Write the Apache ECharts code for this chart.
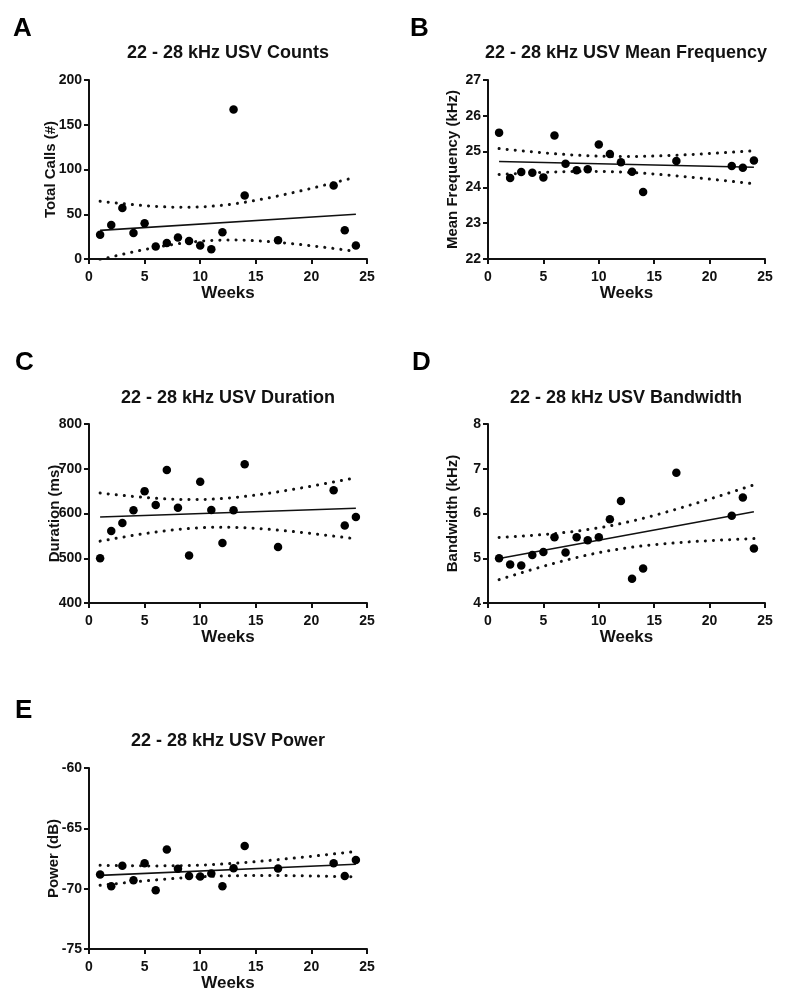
<!DOCTYPE html>
<html>
<head>
<meta charset="utf-8">
<script src="https://cdn.jsdelivr.net/npm/echarts@6/dist/echarts.min.js"></script>
<style>
html,body{margin:0;padding:0;background:#fff;}
#chart{width:789px;height:997px;}
</style>
</head>
<body>
<div id="chart"></div>
<script>
// ---------- data ----------
const weeks = [1,2,3,4,5,6,7,8,9,10,11,12,13,14,17,22,23,24];
const counts = [27,38,57,29,40,14,18,24,20,15,11,30,167,71,21,82,32,15];
const meanFreq = [25.53,24.26,24.43,24.41,24.28,25.45,24.66,24.48,24.51,25.20,24.93,24.70,24.44,23.87,24.74,24.60,24.55,24.75];
const duration = [500,561,579,607,650,619,697,613,506,671,608,534,607,710,525,652,573,592];
const bandwidth = [5.00,4.86,4.84,5.07,5.14,5.47,5.13,5.47,5.40,5.47,5.87,6.28,4.54,4.77,6.91,5.95,6.36,5.22];
const power = [-68.82,-69.79,-68.11,-69.30,-67.89,-70.14,-66.75,-68.35,-68.95,-69.00,-68.75,-69.79,-68.30,-66.46,-68.32,-67.89,-68.95,-67.62];

const xTicks = [0,5,10,15,20,25];
const countTicks = [0,50,100,150,200];
const freqTicks = [22,23,24,25,26,27];
const durTicks = [400,500,600,700,800];
const bwTicks = [4,5,6,7,8];
const powTicks = [-75,-70,-65,-60];

const panelLetters = ['A','B','C','D','E'];
const panelTitles = ['22 - 28 kHz USV Counts','22 - 28 kHz USV Mean Frequency','22 - 28 kHz USV Duration','22 - 28 kHz USV Bandwidth','22 - 28 kHz USV Power'];
const yNames = ['Total Calls (#)','Mean Frequency (kHz)','Duration (ms)','Bandwidth (kHz)','Power (dB)'];
const xName = 'Weeks';

// ---------- linear regression with 95% confidence band ----------
function regress(xs, ys){
  const n = xs.length;
  const mx = xs.reduce((a,b)=>a+b,0)/n;
  const my = ys.reduce((a,b)=>a+b,0)/n;
  let sxx=0, sxy=0;
  for(let i=0;i<n;i++){ sxx+=(xs[i]-mx)*(xs[i]-mx); sxy+=(xs[i]-mx)*(ys[i]-my); }
  const b = sxy/sxx, a = my - b*mx;
  let sse=0;
  for(let i=0;i<n;i++){ const r = ys[i]-(a+b*xs[i]); sse+=r*r; }
  const s = Math.sqrt(sse/(n-2));
  const t = 2.1199; // t(0.975, df=16)
  const x0 = Math.min(...xs), x1 = Math.max(...xs);
  const line = [[x0, a+b*x0],[x1, a+b*x1]];
  const up=[], lo=[];
  for(let x=x0; x<=x1+1e-9; x+=0.25){
    const yh = a+b*x;
    const h = t*s*Math.sqrt(1/n + (x-mx)*(x-mx)/sxx);
    up.push([x, yh+h]); lo.push([x, yh-h]);
  }
  return {line, up, lo};
}

const FONT = "'Liberation Sans', Arial, Helvetica, sans-serif";
const INK = '#111';

const panels = [
  {ys: counts, ticks: countTicks, grid:{left:89, top:80, width:278, height:179}, gap:31},
  {ys: meanFreq, ticks: freqTicks, grid:{left:488, top:80, width:277, height:179}, gap:28},
  {ys: duration, ticks: durTicks, grid:{left:89, top:424, width:278, height:179}, gap:27},
  {ys: bandwidth, ticks: bwTicks, grid:{left:488, top:424, width:277, height:179}, gap:28},
  {ys: power, ticks: powTicks, grid:{left:89, top:768, width:278, height:181}, gap:28}
];

const grids=[], xAxes=[], yAxes=[], series=[], graphics=[];
const letterPos = [[13,29],[410,29],[15,363],[412,363],[15,711]];
const titlePos = [[228,53],[626,53],[228,398],[626,398],[228,741]];

panels.forEach((p,i)=>{
  grids.push(Object.assign({containLabel:false}, p.grid));
  const axisCommon = {
    axisLine:{show:true, onZero:false, lineStyle:{color:INK, width:2}},
    axisTick:{show:true, inside:false, length:5, lineStyle:{color:INK, width:2}},
    splitLine:{show:false},
    nameMoveOverlap:false,
    axisLabel:{color:INK, fontFamily:FONT, fontWeight:'bold', fontSize:14}
  };
  xAxes.push(Object.assign({}, axisCommon, {
    gridIndex:i, type:'value',
    min:xTicks[0], max:xTicks[xTicks.length-1], interval:xTicks[1]-xTicks[0],
    name:xName, nameLocation:'middle', nameGap:26,
    nameTextStyle:{color:INK, fontFamily:FONT, fontWeight:'bold', fontSize:17},
    axisLabel:Object.assign({}, axisCommon.axisLabel, {margin:11})
  }));
  yAxes.push(Object.assign({}, axisCommon, {
    gridIndex:i, type:'value',
    min:p.ticks[0], max:p.ticks[p.ticks.length-1], interval:p.ticks[1]-p.ticks[0],
    name:yNames[i], nameLocation:'middle', nameGap:p.gap, nameRotate:90,
    nameTextStyle:{color:INK, fontFamily:FONT, fontWeight:'bold', fontSize:15},
    axisLabel:Object.assign({}, axisCommon.axisLabel, {margin:7})
  }));
  const r = regress(weeks, p.ys);
  const dotted = {color:INK, width:3, type:[0.1,8], cap:'round'};
  series.push({type:'line', xAxisIndex:i, yAxisIndex:i, data:r.up, showSymbol:false, silent:true, lineStyle:dotted, z:2});
  series.push({type:'line', xAxisIndex:i, yAxisIndex:i, data:r.lo, showSymbol:false, silent:true, lineStyle:dotted, z:2});
  series.push({type:'line', xAxisIndex:i, yAxisIndex:i, data:r.line, showSymbol:false, silent:true, lineStyle:{color:INK, width:1.6}, z:3});
  series.push({type:'scatter', xAxisIndex:i, yAxisIndex:i, data:weeks.map((w,k)=>[w,p.ys[k]]), symbol:'circle', symbolSize:8.5, itemStyle:{color:'#000', opacity:1}, z:4, silent:true});

  graphics.push({type:'text', x:letterPos[i][0], y:letterPos[i][1], style:{text:panelLetters[i], fill:'#000', font:"bold 26px "+FONT, textAlign:'left', textVerticalAlign:'middle'}});
  graphics.push({type:'text', x:titlePos[i][0], y:titlePos[i][1], style:{text:panelTitles[i], fill:INK, font:"bold 18px "+FONT, textAlign:'center', textVerticalAlign:'middle'}});
});

const chart = echarts.init(document.getElementById('chart'), null, {renderer:'canvas'});
chart.setOption({
  animation:false,
  backgroundColor:'#fff',
  grid:grids, xAxis:xAxes, yAxis:yAxes, series:series, graphic:graphics
});
</script>
</body>
</html>
